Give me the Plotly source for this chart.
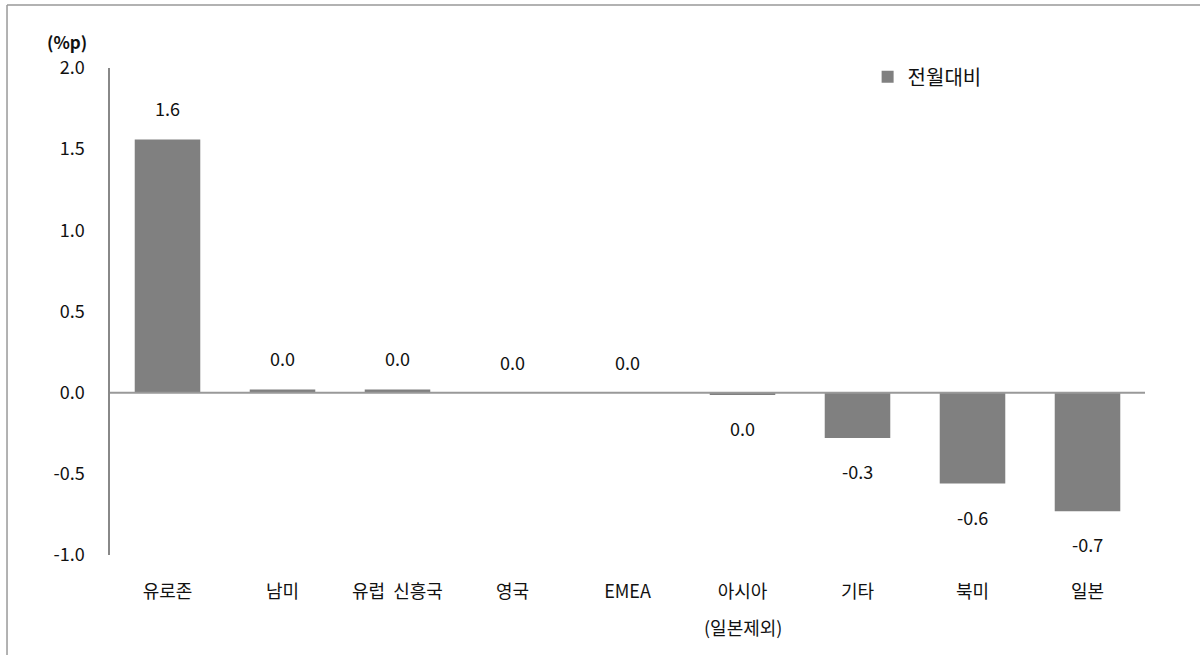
import plotly.graph_objects as go

# 지역별 비중 전월대비 변화 (%p)
regions = ["유로존", "남미", "유럽 신흥국", "영국", "EMEA", "아시아 (일본제외)", "기타", "북미", "일본"]
region_labels = ["유로존", "남미", "유럽  신흥국", "영국", "EMEA", "아시아", "기타", "북미", "일본"]
mom_change = [1.56, 0.02, 0.02, 0.0, 0.0, -0.015, -0.28, -0.56, -0.73]
y_ticks = [-1.0, -0.5, 0.0, 0.5, 1.0, 1.5, 2.0]

FONT = "Malgun Gothic, Noto Sans CJK KR, sans-serif"
BAR_COLOR = "#808080"
LINE_COLOR = "#999999"
TEXT_COLOR = "#111111"
FS = 18

fig = go.Figure()
fig.add_trace(go.Bar(
    x=regions, y=mom_change, name="전월대비",
    marker=dict(color=BAR_COLOR, line=dict(width=0)),
    width=0.57,
))

# value labels above positive bars and below negative bars
for r, v in zip(regions, mom_change):
    fig.add_annotation(
        x=r, y=v, text=f"{v:.1f}".replace("-0.0", "0.0"),
        showarrow=False, yshift=31 if v >= 0 else -33,
        font=dict(family=FONT, size=FS, color=TEXT_COLOR),
    )

# second line of the 아시아 category label
fig.add_annotation(
    x="아시아 (일본제외)", xref="x", yref="paper", y=0, yshift=-72,
    yanchor="middle", text="(일본제외)", showarrow=False,
    font=dict(family=FONT, size=FS, color=TEXT_COLOR),
)

# unit label
fig.add_annotation(
    xref="paper", yref="paper", x=-0.0415, y=1.0, yshift=27,
    xanchor="center", yanchor="middle",
    text="<b>(%p)</b>", showarrow=False,
    font=dict(family=FONT, size=17, color=TEXT_COLOR),
)

# zero baseline
fig.add_shape(type="line", xref="paper", yref="y", x0=0, x1=1, y0=0, y1=0,
              line=dict(color=LINE_COLOR, width=2))

# outer frame (top and left edges)
fig.add_shape(type="line", xref="paper", yref="paper",
              x0=-0.0995, x1=1.06, y0=1.1295, y1=1.1295,
              line=dict(color=LINE_COLOR, width=1.5))
fig.add_shape(type="line", xref="paper", yref="paper",
              x0=-0.0995, x1=-0.0995, y0=-0.22, y1=1.1295,
              line=dict(color=LINE_COLOR, width=1.5))

fig.update_layout(
    width=1200, height=655,
    margin=dict(l=110, r=55, t=68, b=100),
    paper_bgcolor="white", plot_bgcolor="white",
    font=dict(family=FONT, size=FS, color=TEXT_COLOR),
    showlegend=True,
    legend=dict(x=0.732, y=1.022, xanchor="left", yanchor="top",
                bgcolor="rgba(0,0,0,0)", font=dict(size=20, color=TEXT_COLOR)),
)
fig.update_xaxes(
    tickvals=regions, ticktext=region_labels,
    showgrid=False, zeroline=False, showline=False, ticks="",
    tickfont=dict(family=FONT, size=FS, color=TEXT_COLOR), ticklabelstandoff=24,
)
fig.update_yaxes(
    range=[-1.0, 2.0], tickvals=y_ticks, ticktext=[f"{t:.1f}" for t in y_ticks],
    showgrid=False, zeroline=False,
    showline=True, linecolor="#888888", linewidth=1.5, ticks="",
    ticklabelstandoff=20, tickfont=dict(family=FONT, size=FS, color=TEXT_COLOR),
)

fig.write_html("out.html")
